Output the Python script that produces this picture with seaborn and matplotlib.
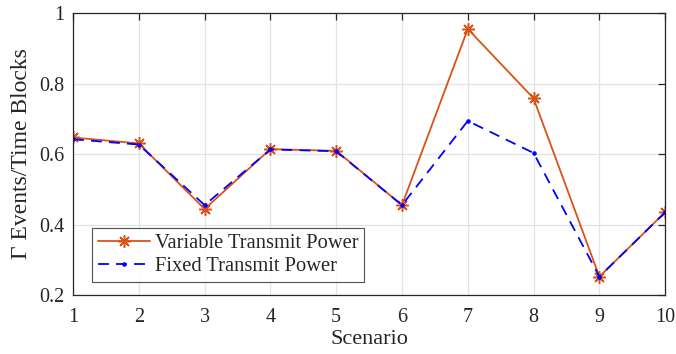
import matplotlib
matplotlib.use("Agg")
import matplotlib.pyplot as plt
import seaborn as sns
import pandas as pd

scenarios = [1, 2, 3, 4, 5, 6, 7, 8, 9, 10]
variable_power = [0.647, 0.630, 0.444, 0.614, 0.609, 0.455, 0.955, 0.758, 0.252, 0.435]
fixed_power = [0.642, 0.627, 0.455, 0.613, 0.608, 0.455, 0.694, 0.603, 0.252, 0.435]
series_names = ["Variable Transmit Power", "Fixed Transmit Power"]
yticks = [0.2, 0.4, 0.6, 0.8, 1.0]
ytick_labels = ["0.2", "0.4", "0.6", "0.8", "1"]

sns.set_theme(style="white")
plt.rcParams['font.family'] = ['Liberation Serif', 'DejaVu Serif']

df = pd.DataFrame({
    "Scenario": scenarios * 2,
    "value": variable_power + fixed_power,
    "series": [series_names[0]] * len(scenarios) + [series_names[1]] * len(scenarios),
})

fig = plt.figure(figsize=(6.76, 3.54), dpi=100)
ax = fig.add_axes([0.108, 0.1667, 0.876, 0.7963])

orange = "#D95319"
blue = "#0000FF"
sns.lineplot(data=df[df.series == series_names[0]], x="Scenario", y="value", ax=ax,
             color=orange, lw=1.3, marker=(8, 2, 0), markersize=9, markeredgewidth=1.1,
             markeredgecolor=orange, label=series_names[0])
sns.lineplot(data=df[df.series == series_names[1]], x="Scenario", y="value", ax=ax,
             color=blue, lw=1.3, marker=".", markersize=5, linestyle=(0, (6, 4)),
             markeredgecolor=blue, label=series_names[1])

ax.set_xlim(1, 10)
ax.set_ylim(0.2, 1.0)
ax.set_xticks(scenarios)
ax.set_xticklabels([str(s) for s in scenarios])
ax.set_yticks(yticks)
ax.set_yticklabels(ytick_labels)
ax.grid(True, color="#E3E3E3", lw=0.9)
ax.set_axisbelow(True)
for sp in ax.spines.values():
    sp.set_color("#262626")
    sp.set_linewidth(0.9)
ax.tick_params(direction="in", length=5, width=0.9, color="#262626", labelsize=14.5,
               labelcolor="#262626", top=True, right=True)
ax.tick_params(axis="x", pad=9.5)
ax.tick_params(axis="y", pad=6)
ax.set_xlabel("Scenario", fontsize=16, color="#262626", labelpad=2)
ax.set_ylabel("Γ Events/Time Blocks", fontsize=17, color="#262626", labelpad=5)

leg = ax.legend(loc="lower left", bbox_to_anchor=(0.032, 0.046), fontsize=14.8,
                frameon=True, fancybox=False, handlelength=2.5, borderpad=0.3,
                labelspacing=0.15, handletextpad=0.25, borderaxespad=0)
leg.get_frame().set_edgecolor("#262626")
leg.get_frame().set_linewidth(0.8)

fig.savefig("out.png", dpi=100)
